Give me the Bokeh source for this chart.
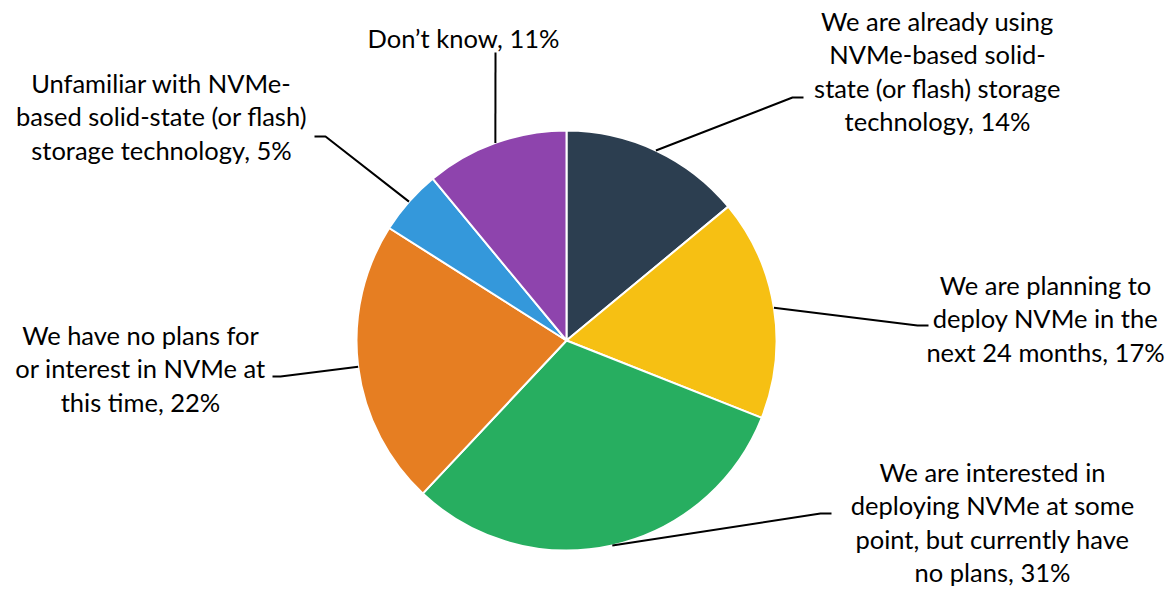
import math
from bokeh.plotting import figure
from bokeh.models import Range1d, ColumnDataSource
from bokeh.core.properties import value
from bokeh.embed import file_html
from bokeh.resources import INLINE

# ---- data ----
categories = [
    "We are already using NVMe-based solid-state (or flash) storage technology",
    "We are planning to deploy NVMe in the next 24 months",
    "We are interested in deploying NVMe at some point, but currently have no plans",
    "We have no plans for or interest in NVMe at this time",
    "Unfamiliar with NVMe-based solid-state (or flash) storage technology",
    "Don\u2019t know",
]
values = [14, 17, 31, 22, 5, 11]
colors = ["#2C3E50", "#F6C013", "#27AE60", "#E67E22", "#3498DB", "#8E44AD"]
label_lines = [
    ["We are already using", "NVMe-based solid-", "state (or flash) storage", "technology, 14%"],
    ["We are planning to", "deploy NVMe in the", "next 24 months, 17%"],
    ["We are interested in", "deploying NVMe at some", "point, but currently have", "no plans, 31%"],
    ["We have no plans for", "or interest in NVMe at", "this time, 22%"],
    ["Unfamiliar with NVMe-", "based solid-state (or flash)", "storage technology, 5%"],
    ["Don\u2019t know, 11%"],
]

# ---- layout (pixel coordinates, y measured from top) ----
W, H = 1174, 590
CX, CY, R = 566, 340, 210
LINE_H = 33.5
# label block: (center x, y of first line center)
label_pos = [(937, 20), (1045, 284), (992, 471), (140, 334), (161, 82), (463, 37)]
# leader elbow points: list of intermediate points after the arc anchor
elbows = [
    [(792, 97), (803, 97)],
    [(917, 325), (928, 325)],
    [(820, 513), (831, 513)],
    [(280, 376), (272, 376)],
    [(325, 136), (314, 136)],
    [(495, 52)],
]


def Y(py):
    return H - py


p = figure(width=W, height=H, output_backend="svg", toolbar_location=None,
           x_range=Range1d(0, W), y_range=Range1d(0, H), min_border=0)
p.axis.visible = False
p.grid.visible = False
p.outline_line_color = None
p.background_fill_color = "white"
p.border_fill_color = "white"

total = sum(values)
cum = 0
starts, ends, mids = [], [], []
for v in values:
    a0 = math.pi / 2 - 2 * math.pi * cum / total
    a1 = math.pi / 2 - 2 * math.pi * (cum + v) / total
    starts.append(a1)
    ends.append(a0)
    mids.append((a0 + a1) / 2)
    cum += v

src = ColumnDataSource(dict(x=[CX] * len(values), y=[Y(CY)] * len(values),
                            start=starts, end=ends, color=colors, cat=categories,
                            val=values))
p.wedge(x="x", y="y", radius=R, start_angle="start", end_angle="end",
        direction="anticlock", fill_color="color", line_color="white",
        line_width=2, source=src)

# leader lines
xs, ys = [], []
for m, el in zip(mids, elbows):
    ax = CX + R * math.cos(m)
    ay = Y(CY) + R * math.sin(m)
    lx = [ax] + [e[0] for e in el]
    ly = [ay] + [Y(e[1]) for e in el]
    xs.append(lx)
    ys.append(ly)
p.multi_line(xs=xs, ys=ys, line_color="black", line_width=2)

# labels
tx, ty, tt = [], [], []
for lines, (lx, ly) in zip(label_lines, label_pos):
    for i, t in enumerate(lines):
        tx.append(lx)
        ty.append(Y(ly + i * LINE_H))
        tt.append(t)
p.text(x=tx, y=ty, text=tt, text_align="center", text_baseline="middle",
       text_font=value("Lato"), text_font_size="25.5px", text_color="black")

open("out.html", "w").write(file_html(p, INLINE))
